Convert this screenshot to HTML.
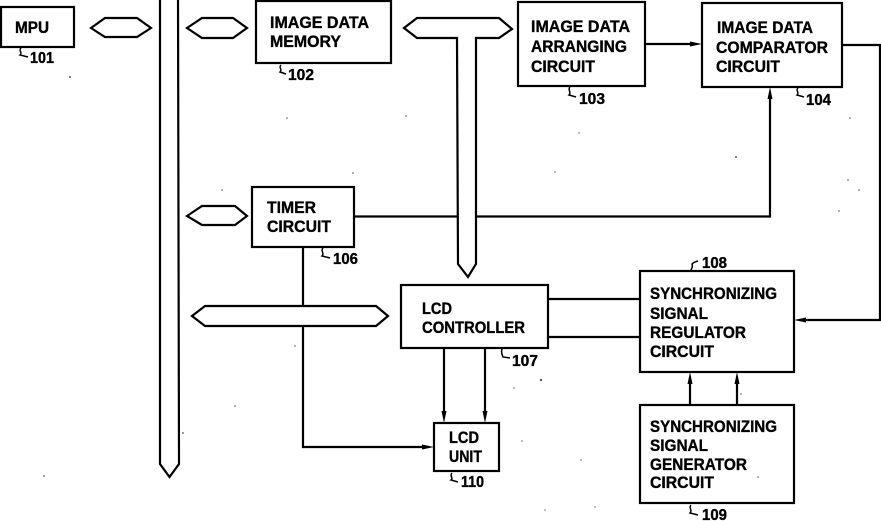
<!DOCTYPE html>
<html>
<head>
<meta charset="utf-8">
<style>
html,body{margin:0;padding:0;background:#fff;width:881px;height:521px;overflow:hidden}
svg{display:block;filter:blur(.3px)}
text{font-family:"Liberation Sans",sans-serif;font-weight:bold;font-size:16.500px;fill:#000;stroke:#000;stroke-width:.35}
text.n{font-size:15.500px}
.b{fill:#fff;stroke:#000;stroke-width:2.200}
.l{fill:none;stroke:#000;stroke-width:2.200}
.s{fill:none;stroke:#000;stroke-width:1.500}
.a{fill:#000;stroke:none}
.d{fill:#555;stroke:none}
</style>
</head>
<body>
<svg width="881" height="521" viewBox="0 0 881 521" xmlns="http://www.w3.org/2000/svg">
<!-- main vertical bus -->
<polyline class="b" points="160,-4 160,464 169.500,477 179,464 178,-4"/>

<!-- connectors -->
<polyline class="l" points="303,247 303,447 428,447"/>
<polyline class="l" points="354,216.500 770,216.500 770,94"/>
<polyline class="l" points="842,45 880,45 880,320 802,320"/>
<line class="l" x1="645" y1="44" x2="692" y2="44"/>
<line class="l" x1="548" y1="299" x2="640" y2="299"/>
<line class="l" x1="548" y1="337" x2="640" y2="337"/>
<line class="l" x1="444" y1="348" x2="444" y2="415"/>
<line class="l" x1="485" y1="348" x2="485" y2="415"/>
<line class="l" x1="690" y1="405" x2="690" y2="380"/>
<line class="l" x1="737" y1="405" x2="737" y2="380"/>

<!-- arrowheads -->
<polygon class="a" points="702,44 690,41.500 690,46.500"/>
<polygon class="a" points="770,87 767.500,99 772.500,99"/>
<polygon class="a" points="794,320 806,317.500 806,322.500"/>
<polygon class="a" points="434,447 422,444.500 422,449.500"/>
<polygon class="a" points="444,423 441.500,411 446.500,411"/>
<polygon class="a" points="485,423 482.500,411 487.500,411"/>
<polygon class="a" points="690,372 687.500,384 692.500,384"/>
<polygon class="a" points="737,372 734.500,384 739.500,384"/>

<!-- bus hexagons -->
<polygon class="b" points="91,28 105,18 137,18 151,28 137,37 105,37"/>
<polygon class="b" points="187,28 202,18 233,18 247,28 233,38 202,38"/>
<polygon class="b" points="187,216 202,206 235,206 247,216 235,225 202,225"/>
<polygon class="b" points="192,316 205,306 376,306 388,316 376,326 205,326"/>
<!-- T bus -->
<polygon class="b" points="404,28 417,18 499,18 512,29 499,38 476,38 476,264 468,277 458,264 457,38 417,38"/>

<!-- boxes -->
<rect class="b" x="1" y="7" width="73" height="40"/>
<rect class="b" x="256" y="1" width="135" height="62"/>
<rect class="b" x="518" y="2" width="127" height="84"/>
<rect class="b" x="702" y="3" width="140" height="84"/>
<rect class="b" x="252" y="187" width="102" height="60"/>
<rect class="b" x="401" y="285" width="147" height="63"/>
<rect class="b" x="640" y="271" width="154" height="101"/>
<rect class="b" x="640" y="405" width="154" height="98"/>
<rect class="b" x="434" y="423" width="65" height="48"/>

<!-- box labels -->
<text x="15" y="33" textLength="34" lengthAdjust="spacingAndGlyphs">MPU</text>
<text x="270" y="28" textLength="99" lengthAdjust="spacingAndGlyphs">IMAGE DATA</text>
<text x="270" y="47" textLength="71" lengthAdjust="spacingAndGlyphs">MEMORY</text>
<text x="531" y="32" textLength="99" lengthAdjust="spacingAndGlyphs">IMAGE DATA</text>
<text x="531" y="52" textLength="96" lengthAdjust="spacingAndGlyphs">ARRANGING</text>
<text x="531" y="72" textLength="64" lengthAdjust="spacingAndGlyphs">CIRCUIT</text>
<text x="717" y="33" textLength="96" lengthAdjust="spacingAndGlyphs">IMAGE DATA</text>
<text x="716" y="53" textLength="112" lengthAdjust="spacingAndGlyphs">COMPARATOR</text>
<text x="716" y="72" textLength="64" lengthAdjust="spacingAndGlyphs">CIRCUIT</text>
<text x="267" y="213" textLength="49" lengthAdjust="spacingAndGlyphs">TIMER</text>
<text x="267" y="232" textLength="64" lengthAdjust="spacingAndGlyphs">CIRCUIT</text>
<text x="422" y="314" textLength="30" lengthAdjust="spacingAndGlyphs">LCD</text>
<text x="422" y="333" textLength="103" lengthAdjust="spacingAndGlyphs">CONTROLLER</text>
<text x="650" y="299" textLength="127" lengthAdjust="spacingAndGlyphs">SYNCHRONIZING</text>
<text x="650" y="319" textLength="58" lengthAdjust="spacingAndGlyphs">SIGNAL</text>
<text x="650" y="338" textLength="96" lengthAdjust="spacingAndGlyphs">REGULATOR</text>
<text x="650" y="357" textLength="64" lengthAdjust="spacingAndGlyphs">CIRCUIT</text>
<text x="650" y="432" textLength="127" lengthAdjust="spacingAndGlyphs">SYNCHRONIZING</text>
<text x="650" y="451" textLength="58" lengthAdjust="spacingAndGlyphs">SIGNAL</text>
<text x="650" y="470" textLength="97" lengthAdjust="spacingAndGlyphs">GENERATOR</text>
<text x="650" y="488" textLength="64" lengthAdjust="spacingAndGlyphs">CIRCUIT</text>
<text x="449" y="443" textLength="30" lengthAdjust="spacingAndGlyphs">LCD</text>
<text x="449" y="462" textLength="33" lengthAdjust="spacingAndGlyphs">UNIT</text>

<!-- reference numbers -->
<text class="n" x="30" y="63" textLength="24" lengthAdjust="spacingAndGlyphs">101</text>
<text class="n" x="288" y="80" textLength="26" lengthAdjust="spacingAndGlyphs">102</text>
<text class="n" x="579" y="104" textLength="26" lengthAdjust="spacingAndGlyphs">103</text>
<text class="n" x="806" y="105" textLength="25" lengthAdjust="spacingAndGlyphs">104</text>
<text class="n" x="333" y="264" textLength="25" lengthAdjust="spacingAndGlyphs">106</text>
<text class="n" x="512" y="366" textLength="26" lengthAdjust="spacingAndGlyphs">107</text>
<text class="n" x="702" y="268" textLength="25" lengthAdjust="spacingAndGlyphs">108</text>
<text class="n" x="702" y="520" textLength="25" lengthAdjust="spacingAndGlyphs">109</text>
<text class="n" x="461" y="487" textLength="23" lengthAdjust="spacingAndGlyphs">110</text>

<!-- reference squiggles -->
<path class="s" d="M21,48 C18,51 23,52 20,55 L28,57"/>
<path class="s" d="M281,65 C278,68 283,69 280,72 L286,74"/>
<path class="s" d="M570,87 C567,90 572,92 569,95 L576,97"/>
<path class="s" d="M798,88 C795,91 800,92 797,95 L804,97"/>
<path class="s" d="M323,248 C320,251 325,253 322,256 L330,258"/>
<path class="s" d="M502,349 C501,352 502,355 503,357 L510,358"/>
<path class="s" d="M698,261 C694,262 693,263 692,264 C693,266 692,268 691,270"/>
<path class="s" d="M691,505 C688,508 693,510 690,513 L698,515"/>
<path class="s" d="M452,473 C449,476 454,478 451,480 L458,482"/>

<!-- scan specks -->
<circle class="d" cx="70" cy="77" r="1"/>
<circle class="d" cx="287" cy="118" r=".8"/>
<circle class="d" cx="406" cy="116" r=".8"/>
<circle class="d" cx="353" cy="173" r=".8"/>
<circle class="d" cx="222" cy="190" r=".8"/>
<circle class="d" cx="579" cy="133" r=".7"/>
<circle class="d" cx="555" cy="172" r=".7"/>
<circle class="d" cx="736" cy="157" r="1"/>
<circle class="d" cx="850" cy="118" r=".8"/>
<circle class="d" cx="848" cy="180" r=".8"/>
<circle class="d" cx="859" cy="190" r=".8"/>
<circle class="d" cx="839" cy="211" r=".8"/>
<circle class="d" cx="295" cy="346" r=".8"/>
<circle class="d" cx="235" cy="406" r=".8"/>
<circle class="d" cx="183" cy="433" r=".9"/>
<circle class="d" cx="44" cy="476" r=".9"/>
<circle class="d" cx="541" cy="380" r="1.200"/>
<circle class="d" cx="514" cy="388" r=".7"/>
<circle class="d" cx="522" cy="441" r=".7"/>
<circle class="d" cx="581" cy="460" r=".7"/>
<circle class="d" cx="545" cy="510" r=".7"/>
<circle class="d" cx="595" cy="507" r=".7"/>
<circle class="d" cx="741" cy="394" r=".8"/>
<circle class="d" cx="758" cy="477" r=".8"/>
</svg>
</body>
</html>
